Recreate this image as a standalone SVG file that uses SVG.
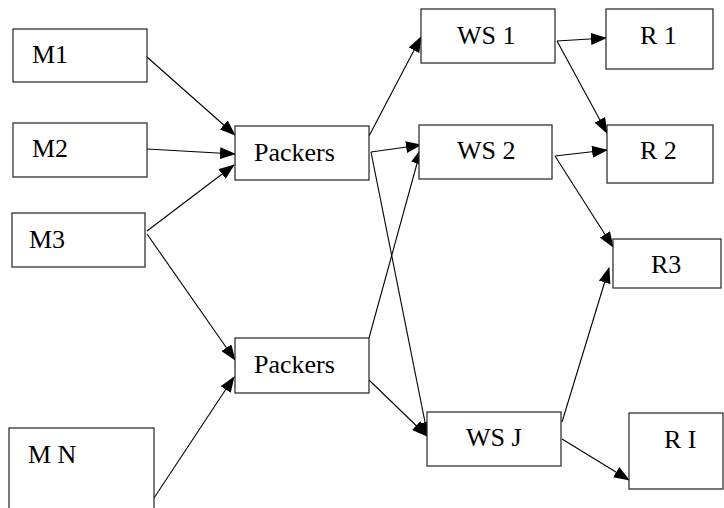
<svg xmlns="http://www.w3.org/2000/svg" width="724" height="508" viewBox="0 0 724 508">
<style>
.box{fill:#fff;stroke:#222;stroke-width:1.2}
.lbl{font-family:"Liberation Serif","Times New Roman",serif;font-size:26px;fill:#000}
.edge{stroke:#000;stroke-width:1.1;fill:none;marker-end:url(#ah)}
</style>
<defs>
<marker id="ah" markerUnits="userSpaceOnUse" markerWidth="16" markerHeight="12" refX="15" refY="6" orient="auto">
<path d="M0,0 L16,6 L0,12 z" fill="#000"/>
</marker>
</defs>
<rect width="724" height="508" fill="#fff"/>
<g id="connectors">
<line class="edge" x1="147" y1="57" x2="235" y2="135"/>
<line class="edge" x1="147" y1="149" x2="235" y2="154"/>
<line class="edge" x1="147" y1="231" x2="234" y2="165"/>
<line class="edge" x1="147" y1="234" x2="235" y2="360"/>
<line class="edge" x1="154" y1="498" x2="234" y2="377"/>
<line class="edge" x1="369" y1="136" x2="421" y2="37"/>
<line class="edge" x1="371" y1="152" x2="421" y2="145"/>
<line class="edge" x1="371" y1="152" x2="428" y2="437"/>
<line class="edge" x1="369" y1="338" x2="421" y2="149"/>
<line class="edge" x1="369" y1="380" x2="427" y2="436"/>
<line class="edge" x1="557" y1="41" x2="606" y2="38"/>
<line class="edge" x1="557" y1="41" x2="607" y2="133"/>
<line class="edge" x1="555" y1="156" x2="607" y2="150"/>
<line class="edge" x1="555" y1="156" x2="613" y2="247"/>
<line class="edge" x1="562" y1="422" x2="609" y2="268"/>
<line class="edge" x1="562" y1="439" x2="629" y2="480"/>
</g>
<g id="M1"><rect class="box" x="13" y="29" width="134" height="53"/><text class="lbl" x="32" y="63">M1</text></g>
<g id="M2"><rect class="box" x="13" y="123" width="134" height="54"/><text class="lbl" x="32" y="157">M2</text></g>
<g id="M3"><rect class="box" x="12" y="213" width="133" height="54"/><text class="lbl" x="29" y="248">M3</text></g>
<g id="MN"><rect class="box" x="9" y="428" width="145" height="90"/><text class="lbl" x="28" y="463">M N</text></g>
<g id="Packers1"><rect class="box" x="235" y="126" width="134" height="54"/><text class="lbl" x="254" y="161">Packers</text></g>
<g id="Packers2"><rect class="box" x="235" y="338" width="134" height="55"/><text class="lbl" x="254" y="373">Packers</text></g>
<g id="WS1"><rect class="box" x="421" y="9" width="134" height="54"/><text class="lbl" x="457" y="44">WS 1</text></g>
<g id="WS2"><rect class="box" x="419" y="125" width="133" height="54"/><text class="lbl" x="457" y="159">WS 2</text></g>
<g id="WSJ"><rect class="box" x="427" y="412" width="134" height="54"/><text class="lbl" x="466" y="446">WS J</text></g>
<g id="R1"><rect class="box" x="606" y="9" width="107" height="60"/><text class="lbl" x="640" y="44">R 1</text></g>
<g id="R2"><rect class="box" x="607" y="125" width="106" height="58"/><text class="lbl" x="640" y="159">R 2</text></g>
<g id="R3"><rect class="box" x="613" y="239" width="108" height="49"/><text class="lbl" x="651" y="273">R3</text></g>
<g id="RI"><rect class="box" x="629" y="413" width="94" height="76"/><text class="lbl" x="664" y="448">R I</text></g>
</svg>
